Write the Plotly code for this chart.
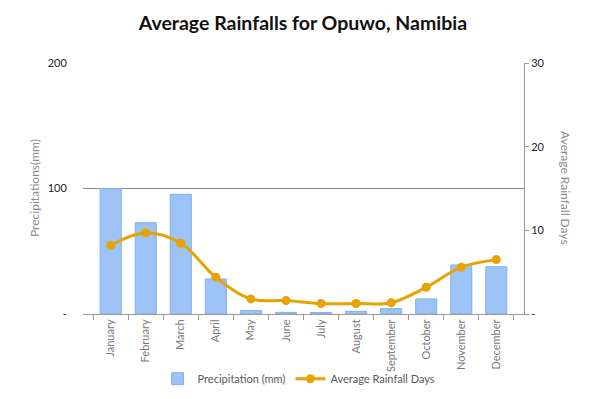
import plotly.graph_objects as go

months = ["January", "February", "March", "April", "May", "June", "July",
          "August", "September", "October", "November", "December"]
precip_mm = [100, 72.7, 95.4, 27.9, 2.7, 1.3, 1.2, 2.1, 4.3, 12, 39, 37.7]
rain_days = [8.2, 9.7, 8.45, 4.4, 1.8, 1.6, 1.25, 1.25, 1.35, 3.2, 5.6, 6.5]

left_ticks = [0, 100, 200]
left_labels = ["-", "100", "200"]
right_ticks = [0, 10, 20, 30]
right_labels = ["-", "10", "20", "30"]

font_family = "Lato, Open Sans, sans-serif"

fig = go.Figure()
fig.add_trace(go.Bar(
    x=months, y=precip_mm, name="Precipitation (mm)",
    marker=dict(color="#9DC3F6", line=dict(color="#7FB0EE", width=1)),
    width=0.6, yaxis="y",
))
fig.add_trace(go.Scatter(
    x=months, y=rain_days, name="Average Rainfall Days",
    mode="lines+markers", line=dict(color="#E8A202", width=3, shape="spline"),
    marker=dict(color="#E8A202", size=9), yaxis="y2",
))

fig.update_layout(
    width=584, height=383,
    margin=dict(l=75, r=68, t=55, b=77, autoexpand=False),
    paper_bgcolor="white", plot_bgcolor="white",
    font=dict(family=font_family, color="#595959"),
    title=dict(text="<b>Average Rainfalls for Opuwo, Namibia</b>",
               x=0.505, xanchor="center", y=0.961, yanchor="middle",
               font=dict(size=19.5, color="#111111", family=font_family)),
    xaxis=dict(
        type="category", tickangle=-90, tickfont=dict(size=11, color="#7a7a7a"),
        showline=True, linecolor="#9a9a9a", linewidth=1,
        ticks="outside", tickson="boundaries", ticklen=5, tickcolor="#9a9a9a",
        showgrid=False, automargin=False,
    ),
    yaxis=dict(
        range=[0, 200], tickvals=left_ticks, ticktext=left_labels,
        tickfont=dict(size=11, color="#222222"),
        showgrid=True, gridcolor="#8c8c8c", gridwidth=1,
        showline=False, zeroline=False, automargin=False,
        ticks="outside", ticklen=13, tickcolor="rgba(0,0,0,0)",
    ),
    yaxis2=dict(
        range=[0, 30], tickvals=right_ticks, ticktext=right_labels,
        overlaying="y", side="right",
        tickfont=dict(size=11, color="#222222"),
        showgrid=False, showline=True, linecolor="#9a9a9a", linewidth=1,
        zeroline=False, automargin=False,
        ticks="outside", ticklen=4, tickcolor="#9a9a9a",
    ),
    legend=dict(orientation="h", x=0.49, xanchor="center", y=-0.2, yanchor="top",
                bgcolor="rgba(0,0,0,0)",
                font=dict(size=11, color="#595959"), traceorder="normal"),
    showlegend=True,
    bargap=0.4,
)

fig.add_annotation(text="Precipitations(mm)", xref="paper", yref="paper",
                   x=-0.1315, y=0.5, showarrow=False, textangle=-90,
                   font=dict(size=12, color="#8b8b8b"))
fig.add_annotation(text="Average Rainfall Days", xref="paper", yref="paper",
                   x=1.1156, y=0.5, showarrow=False, textangle=90,
                   font=dict(size=12, color="#8b8b8b"))

fig.write_html("out.html")
